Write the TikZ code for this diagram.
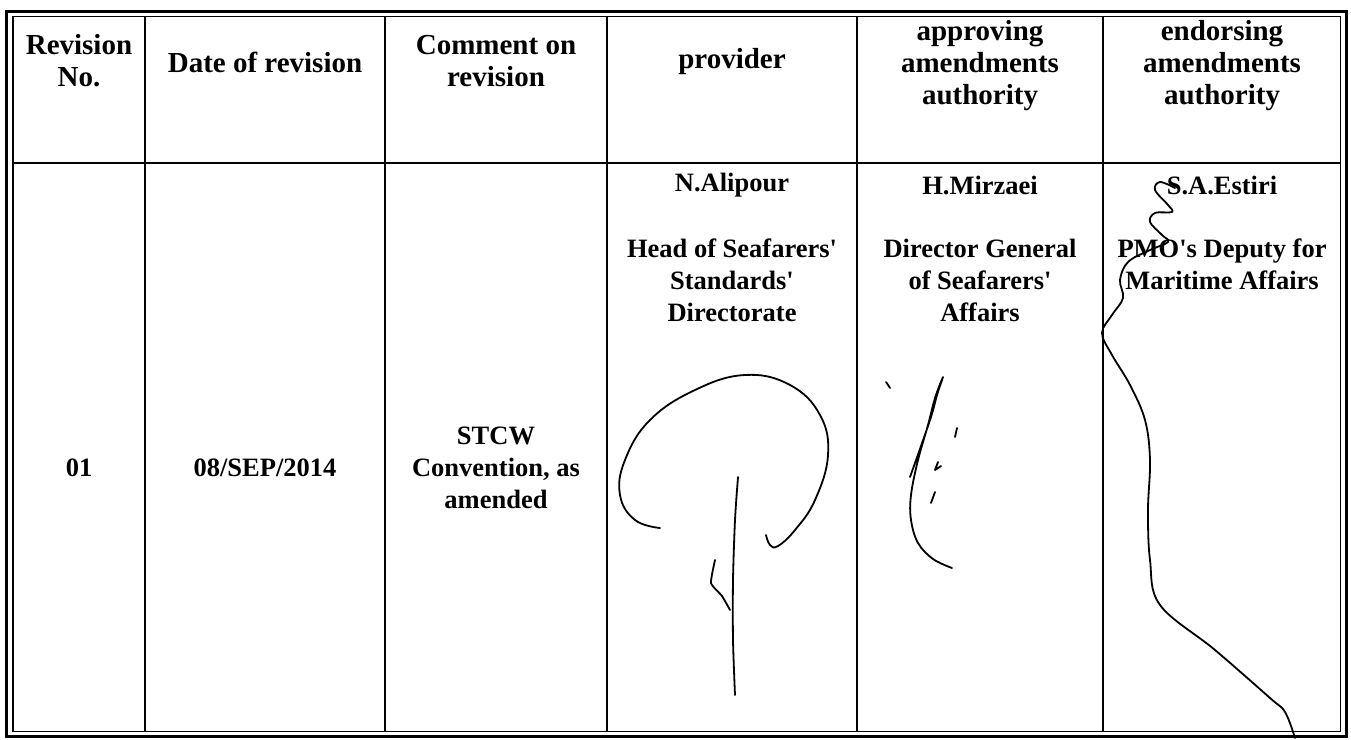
\documentclass[tikz,border=0pt]{standalone}
\usepackage{fontspec}
\setmainfont{Liberation Serif}
\begin{document}
\begin{tikzpicture}[x=1pt,y=-1pt,
  hd/.style={font=\bfseries\fontsize{29}{32}\selectfont, align=center, inner sep=0pt},
  dt/.style={font=\bfseries\fontsize{26.5}{32}\selectfont, align=center, inner sep=0pt},
  thin/.style={line width=1.3pt},
  sig/.style={line width=1.8pt, line cap=round, line join=round}]
\useasboundingbox (0,0) rectangle (1351,739);
% frame
\draw[line width=3pt] (6.5,11.5) rectangle (1346.5,736.5);
\draw[thin] (13,16.5) rectangle (1340.5,731.5);
% grid
\coordinate (c1t) at (145,16.5); \coordinate (c1b) at (145,731.5);
\coordinate (c2t) at (385,16.5); \coordinate (c2b) at (385,731.5);
\coordinate (c3t) at (607,16.5); \coordinate (c3b) at (607,731.5);
\coordinate (c4t) at (857,16.5); \coordinate (c4b) at (857,731.5);
\coordinate (c5t) at (1103,16.5); \coordinate (c5b) at (1103,731.5);
\coordinate (rl) at (13,163); \coordinate (rr) at (1340.5,163);
\draw[thin] (c1t) -- (c1b);
\draw[thin] (c2t) -- (c2b);
\draw[thin] (c3t) -- (c3b);
\draw[thin] (c4t) -- (c4b);
\draw[thin] (c5t) -- (c5b);
\draw[thin] (rl) -- (rr);
% header
\node[hd] (h1) at (79,61) {Revision\\No.};
\node[hd] (h2) at (265,62) {Date of revision};
\node[hd] (h3) at (496,61) {Comment on\\revision};
\node[hd] (h4) at (732,62) {provider};
\node[hd] (h5) at (980,65.5) {approving\\amendments\\authority};
\node[hd] (h6) at (1222,65.5) {endorsing\\amendments\\authority};
% data
\node[dt] (d1) at (79,468) {01};
\node[dt] (d2) at (265,468) {08/SEP/2014};
\node[dt] (d3) at (496,468) {STCW\\Convention, as\\amended};
\node[dt] (n4) at (732,185) {N.Alipour};
\node[dt] (r4) at (732,280) {Head of Seafarers\textquotesingle\\Standards\textquotesingle\\Directorate};
\node[dt] (n5) at (980,185) {H.Mirzaei};
\node[dt] (r5) at (980,280) {Director General\\of Seafarers\textquotesingle\\Affairs};
\node[dt] (n6) at (1222,185) {S.A.Estiri};
\node[dt] (r6) at (1222,264) {PMO\textquotesingle s Deputy for\\Maritime Affairs};
% signature provider
\draw[sig] plot[smooth, tension=0.7] coordinates {(660,528) (635,520) (620,495) (625,460) (650,420) (695,390) (745,375) (790,385) (820,415) (828,455) (815,500) (795,530) (778,546) (770,545) (766,535)};
\draw[sig] plot[smooth] coordinates {(738,477) (735,520) (733,580) (733,640) (735,695)};
\draw[sig] plot[smooth, tension=0.3] coordinates {(715,560) (711,583) (722,596) (730,610)};
% signature approving
\draw[sig] (886,382) -- (890,388);
\draw[sig] plot[smooth, tension=0.6] coordinates {(910,477) (930,420) (937,395) (943,377) (935,398) (928,425) (918,460) (911,495) (911,520) (918,543) (933,559) (952,568)};
\draw[sig] (957,428) -- (955,437);
\draw[sig] (938,462) -- (935,470) -- (941,466);
\draw[sig] (935,492) -- (931,503);
% signature endorsing
\draw[sig] plot[smooth, tension=0.6] coordinates {(1175,188) (1160,182) (1155,190) (1168,205) (1172,212) (1155,213) (1150,222) (1162,235) (1168,242) (1150,250) (1128,262) (1120,280) (1123,298) (1112,315) (1102,333) (1112,355) (1130,385) (1145,420) (1150,460) (1148,510) (1150,560) (1160,605) (1215,650) (1270,698) (1285,712) (1295,738)};
\end{tikzpicture}
\end{document}
